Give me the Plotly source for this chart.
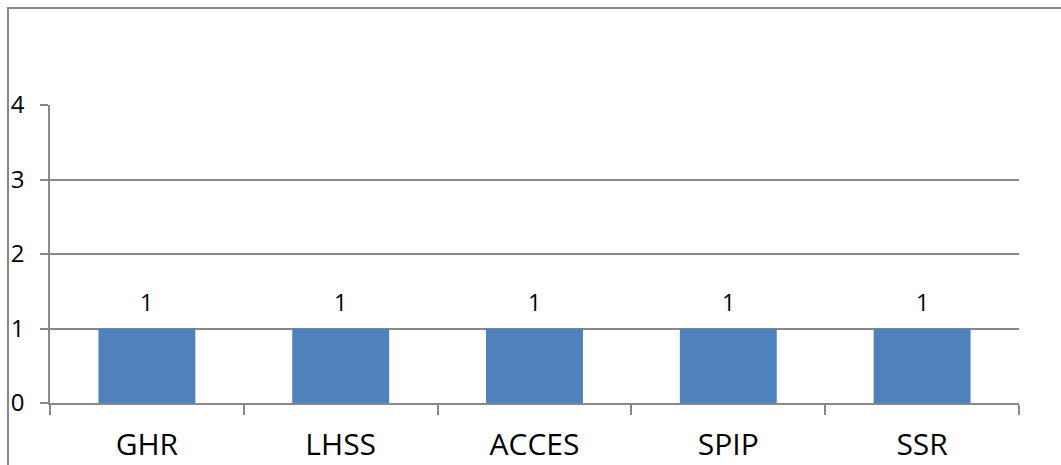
import plotly.graph_objects as go

categories = ["GHR", "LHSS", "ACCES", "SPIP", "SSR"]
values = [1, 1, 1, 1, 1]
y_ticks = [0, 1, 2, 3, 4]

FONT = "Open Sans"
GRID = "#888888"

fig = go.Figure()
fig.add_trace(go.Bar(
    x=categories, y=values, width=0.5,
    marker=dict(color="#4F81BD", line=dict(width=0)),
    hoverinfo="skip",
))

for c, v in zip(categories, values):
    fig.add_annotation(x=c, y=v, text=str(v), showarrow=False,
                       yanchor="middle", yshift=27,
                       font=dict(family=FONT, size=23, color="#000000"))

# outer chart border (cropped on right and bottom)
fig.add_shape(type="rect", xref="paper", yref="paper",
              x0=(8 - 50) / 969, x1=1.2, y0=-0.5, y1=(403 - 8) / 298,
              line=dict(color=GRID, width=2), fillcolor="rgba(0,0,0,0)", layer="below")

fig.update_layout(
    width=1061, height=465,
    margin=dict(l=50, r=42, t=105, b=62, autoexpand=False),
    paper_bgcolor="white", plot_bgcolor="white",
    showlegend=False,
    bargap=0.5,
    font=dict(family=FONT, color="#000000"),
)
fig.update_xaxes(
    type="category", tickson="boundaries", ticks="outside", ticklen=10,
    tickcolor=GRID, tickwidth=1.5, showline=True, linecolor=GRID, linewidth=1.5,
    showgrid=False, tickfont=dict(family=FONT, size=30, color="#000000"),
    ticklabelstandoff=14, automargin=False,
)
fig.update_yaxes(
    range=[0, 4], tickvals=y_ticks, ticktext=[str(t) for t in y_ticks],
    ticks="outside", ticklen=8, tickcolor=GRID, tickwidth=1.5,
    showline=True, linecolor=GRID, linewidth=1.5,
    showgrid=True, gridcolor=GRID, gridwidth=1.5, zeroline=False,
    tickfont=dict(family=FONT, size=24, color="#000000"),
    ticklabelstandoff=11, automargin=False,
)

fig.write_html("out.html")
